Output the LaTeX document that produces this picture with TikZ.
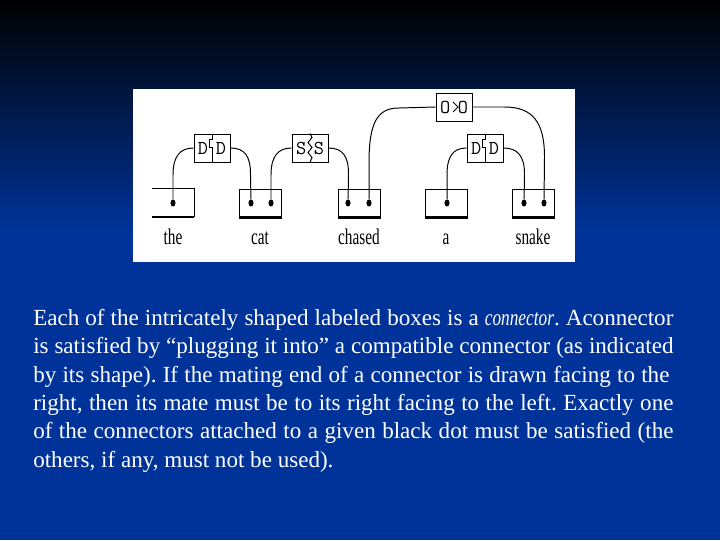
\documentclass[tikz,border=0pt]{standalone}
\usepackage{fontspec}
\setmainfont{Liberation Serif}
\usetikzlibrary{shapes.geometric}
\definecolor{bgblue}{RGB}{0,51,153}
\newcommand{\cond}[1]{\scalebox{0.68}[1]{#1}}
\frenchspacing
\tikzset{
  wordbox/.style={minimum width=1.05cm, minimum height=0.7cm, inner sep=0pt},
  plug/.style={draw, line width=0.7pt, minimum width=0.9cm, minimum height=0.7cm, inner sep=0pt,
    font=\ttfamily\fontsize{14}{14}\selectfont},
  dotmark/.style={fill, ellipse, minimum width=3.6pt, minimum height=5pt, inner sep=0pt},
  wire/.style={line width=0.7pt},
  wordlab/.style={anchor=base, font=\fontsize{16}{16}\selectfont},
  textline/.style={anchor=base west, inner sep=0pt, text=white, font=\fontsize{16.4}{16.4}\selectfont}
}
\begin{document}
\begin{tikzpicture}[x=0.025cm, y=-0.025cm]
  \useasboundingbox (0,0) rectangle (720,540);
  % background
  \fill[bgblue] (0,0) rectangle (720,540);
  \shade[top color=black, bottom color=bgblue] (0,0) rectangle (720,230);
  \fill[white] (133,89) rectangle (575,262);

  % word boxes
  \node[wordbox] (wthe) at (173,203) {};
  \draw[line width=0.7pt] (wthe.north west) -- (wthe.north east) -- (wthe.south east);
  \node[wordbox, draw, line width=0.7pt] (wcat) at (260,203) {};
  \node[wordbox, draw, line width=0.7pt] (wchased) at (359,203) {};
  \node[wordbox, draw, line width=0.7pt] (wa) at (446,203) {};
  \node[wordbox, draw, line width=0.7pt] (wsnake) at (533,203) {};
  \foreach \w in {wthe,wcat,wchased,wa,wsnake}
    \draw[line width=1.5pt] (\w.south west) -- (\w.south east);

  \node[wordlab] (lthe) at (173,244) {\cond{the}};
  \node[wordlab] (lcat) at (260,244) {\cond{cat}};
  \node[wordlab] (lchased) at (359,244) {\cond{chased}};
  \node[wordlab] (la) at (446,244) {\cond{a}};
  \node[wordlab] (lsnake) at (533,244) {\cond{snake}};

  % dots
  \node[dotmark] (dthe) at (173,203) {};
  \node[dotmark] (dcat1) at (251,203) {};
  \node[dotmark] (dcat2) at (271,203) {};
  \node[dotmark] (dchased1) at (348,203) {};
  \node[dotmark] (dchased2) at (369,203) {};
  \node[dotmark] (da) at (447,203) {};
  \node[dotmark] (dsnake1) at (524,203) {};
  \node[dotmark] (dsnake2) at (544,203) {};

  % connectors
  \node[plug] (cD1) at (212,148) {D\hspace{5.5pt}D};
  \draw[line width=0.7pt] (cD1.north) -- ++(0,6) -- ++(-3,0) -- ++(0,8) -- ++(3,0) -- (cD1.south);
  \node[plug] (cS) at (310,148) {S\hspace{5.5pt}S};
  \draw[line width=0.7pt] (cS.north) -- ++(2,4) -- ++(-4,5) -- ++(4,5) -- ++(-4,5) -- ++(4,5) -- (cS.south);
  \node[plug] (cO) at (454,107) {O\hspace{5.5pt}O};
  \draw[line width=0.7pt] (cO.center) ++(-1,-5) -- ++(5,5) -- ++(-5,5);
  \node[plug] (cD2) at (485,148) {D\hspace{5.5pt}D};
  \draw[line width=0.7pt] (cD2.north) -- ++(0,6) -- ++(-3,0) -- ++(0,8) -- ++(3,0) -- (cD2.south);

  % wires
  \draw[wire] (dthe) -- ++(0,-28) .. controls +(0,-18) and +(-14,0) .. (cD1.west);
  \draw[wire] (cD1.east) .. controls +(14,0) and +(0,-18) .. ++(20,26) -- (dcat1);
  \draw[wire] (dcat2) -- ++(0,-28) .. controls +(0,-18) and +(-14,0) .. (cS.west);
  \draw[wire] (cS.east) .. controls +(14,0) and +(0,-18) .. ++(20,26) -- (dchased1);
  \draw[wire] (dchased2) -- ++(0,-40) .. controls +(0,-40) and +(-22,0) .. ++(30,-55) -- (cO.west);
  \draw[wire] (cO.east) -- ++(32,0) .. controls +(28,0) and +(0,-35) .. ++(40,50) -- (dsnake2);
  \draw[wire] (da) -- ++(0,-28) .. controls +(0,-18) and +(-14,0) .. (cD2.west);
  \draw[wire] (cD2.east) .. controls +(14,0) and +(0,-18) .. ++(21,26) -- (dsnake1);

  % text
  \node[textline] (t1) at (33,325) {\makebox[16cm][s]{Each of the intricately shaped labeled boxes is a \scalebox{0.75}[1]{\textit{connector}}. Aconnector}};
  \node[textline] (t2) at (33,353) {\makebox[16cm][s]{is satisfied by ``plugging it into'' a compatible connector (as indicated}};
  \node[textline] (t3) at (33,382) {\makebox[15.9cm][s]{by its shape). If the mating end of a connector is drawn facing to the}};
  \node[textline] (t4) at (33,410) {\makebox[16cm][s]{right, then its mate must be to its right facing to the left. Exactly one}};
  \node[textline] (t5) at (33,438) {\makebox[16cm][s]{of the connectors attached to a given black dot must be satisfied (the}};
  \node[textline] (t6) at (33,467) {others, if any, must not be used).};
\end{tikzpicture}
\end{document}
